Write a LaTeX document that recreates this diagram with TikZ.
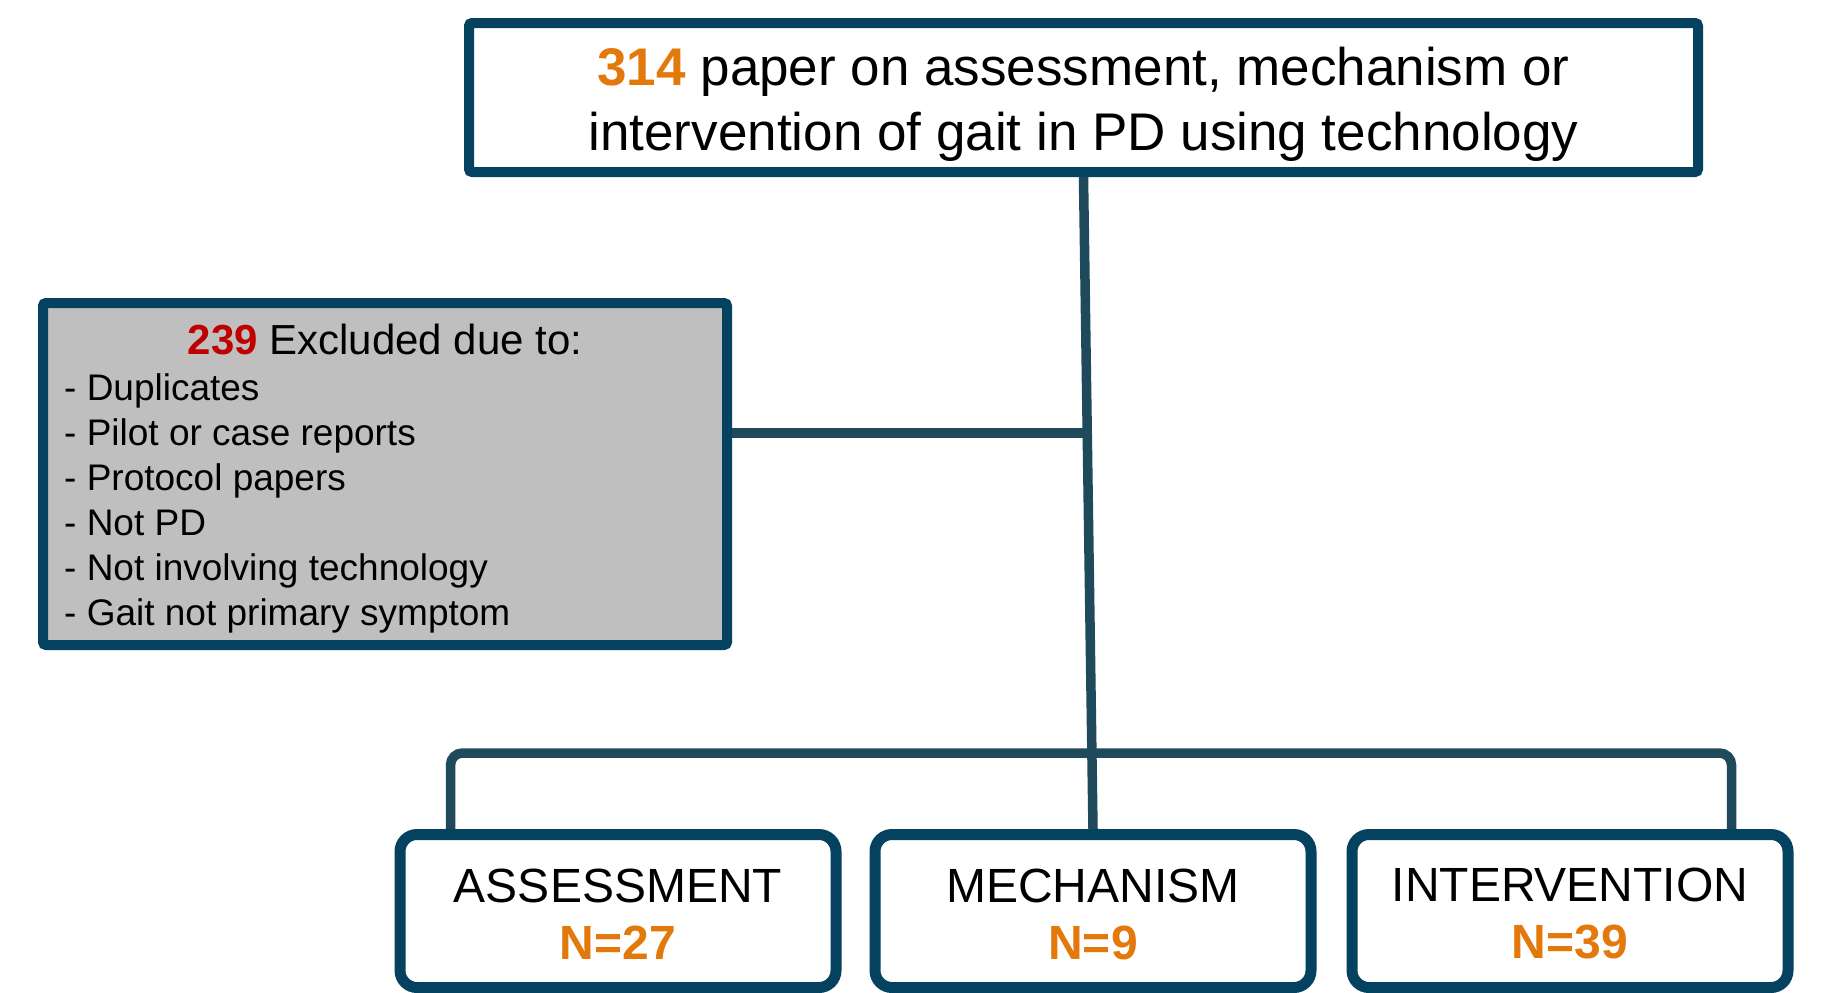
\documentclass[tikz,border=0pt]{standalone}
\usepackage{fontspec}
\setmainfont{Liberation Sans}
\definecolor{boxblue}{HTML}{05425F}
\definecolor{connblue}{HTML}{1F4A5C}
\definecolor{boxgrey}{HTML}{BFBFBF}
\definecolor{numorange}{HTML}{E3790B}
\definecolor{numred}{HTML}{C00000}
\begin{document}
\begin{tikzpicture}[x=1pt,y=-1pt,
  box/.style={draw=boxblue, line width=10pt, rounded corners=3pt, fill=white, inner sep=0pt},
  catbox/.style={draw=boxblue, line width=11pt, rounded corners=17pt, fill=white,
    minimum width=436pt, minimum height=153pt, inner sep=0pt},
  cattxt/.style={inner sep=0pt, align=center, font=\fontsize{48}{57}\selectfont},
  conn/.style={draw=connblue, line width=9.5pt},
  itemtxt/.style={anchor=base west, inner sep=0pt, font=\fontsize{37}{44}\selectfont}]
\useasboundingbox (0,0) rectangle (1821,993);
\fill[white] (0,0) rectangle (1821,993);
% top box
\node[box, minimum width=1229pt, minimum height=149pt] (top) at (1083.5,97.5) {};
\node[inner sep=0pt, align=center, font=\fontsize{53}{65}\selectfont] (toptext) at (1083.5,104)
  {\textcolor{numorange}{\bfseries 314} paper on assessment, mechanism or\\intervention of gait in PD using technology};
% excluded box
\node[box, fill=boxgrey, minimum width=684pt, minimum height=342pt] (excl) at (385,474) {};
\node[anchor=base, inner sep=0pt, font=\fontsize{42}{50}\selectfont] (exclhead) at (385,354)
  {\textcolor{numred}{\bfseries 239} Excluded due to:};
\node[itemtxt] (item1) at (64,400) {- Duplicates};
\node[itemtxt] (item2) at (64,445) {- Pilot or case reports};
\node[itemtxt] (item3) at (64,490) {- Protocol papers};
\node[itemtxt] (item4) at (64,535) {- Not PD};
\node[itemtxt] (item5) at (64,580) {- Not involving technology};
\node[itemtxt] (item6) at (64,625) {- Gait not primary symptom};
% category boxes
\node[catbox] (assess) at (618,911) {};
\node[catbox] (mech) at (1093,911) {};
\node[catbox] (interv) at (1570,911) {};
\node[cattxt] (assesstxt) at (618,914) {ASSESSMENT\\\textcolor{numorange}{\bfseries N=27}};
\node[cattxt] (mechtxt) at (1093,914) {MECHANISM\\\textcolor{numorange}{\bfseries N=9}};
\node[cattxt] (intervtxt) at (1570,914) {INTERVENTION\\\textcolor{numorange}{\bfseries N=39}};
% connectors
\draw[conn] (top.south) -- (mech.north);
\coordinate (j1) at (1086,433);
\draw[conn] (excl.east |- j1) -- (j1);
\coordinate (bar) at (1090,753);
\draw[conn, rounded corners=12pt] ([xshift=56pt]assess.north west) |- (bar) -| ([xshift=-62pt]interv.north east);
\end{tikzpicture}
\end{document}
